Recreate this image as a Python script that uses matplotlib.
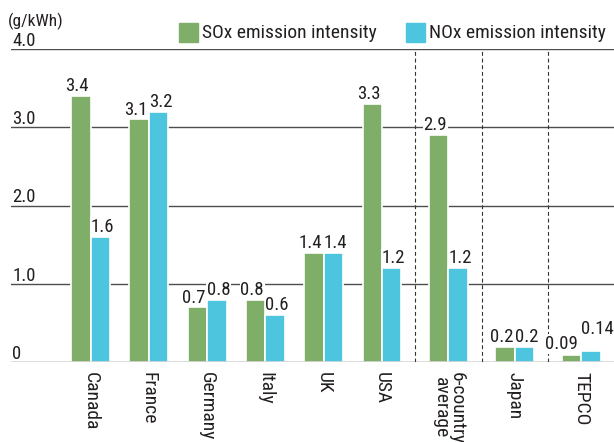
import matplotlib.pyplot as plt
import numpy as np

plt.rcParams["font.family"] = ["Liberation Sans Narrow", "Arial Narrow", "Roboto Condensed",
                               "Archivo Narrow", "DejaVu Sans"]

categories = ["Canada", "France", "Germany", "Italy", "UK", "USA",
              "6-country\naverage", "Japan", "TEPCO"]
sox = [3.4, 3.1, 0.7, 0.8, 1.4, 3.3, 2.9, 0.2, 0.09]
nox = [1.6, 3.2, 0.8, 0.6, 1.4, 1.2, 1.2, 0.2, 0.14]
sox_labels = ["3.4", "3.1", "0.7", "0.8", "1.4", "3.3", "2.9", "0.2", "0.09"]
nox_labels = ["1.6", "3.2", "0.8", "0.6", "1.4", "1.2", "1.2", "0.2", "0.14"]
y_ticks = [0, 1.0, 2.0, 3.0, 4.0]
y_tick_labels = ["0", "1.0", "2.0", "3.0", "4.0"]

GREEN = "#7fae68"
BLUE = "#4ec5df"
TEXT = "#231f20"
LINE = "#4d4d4d"

# groups after the USA are split off by dashed separators with a little extra room
separators_after = [5, 6, 7]
extra = 0.14
pos = np.array([i + extra * sum(i > s for s in separators_after) for i in range(len(categories))])
sep_x = [(pos[s] + pos[s + 1]) / 2 for s in separators_after]
width = 0.333

fig = plt.figure(figsize=(6.14, 4.42), dpi=100)
ax = fig.add_axes([11 / 614, (442 - 362.3) / 442, 1 - 11 / 614, (362.3 - 49) / 442])
ax.set_xlim(-1.364, 8.98)
ax.set_ylim(0, 4.0)
ax.axis("off")

for y, lab in zip(y_ticks, y_tick_labels):
    ax.axhline(y, color=LINE, lw=1.0, zorder=1 if y > 0 else 4)
    ax.annotate(lab, (0, y), xycoords=("axes fraction", "data"), xytext=(1, 2.5),
                textcoords="offset points", ha="left", va="baseline",
                fontsize=13.5, color=TEXT)

for x in sep_x:
    ax.plot([x, x], [0, 4.0], color="#333333", lw=0.8, ls=(0, (3.5, 2.5)), zorder=2)

ax.bar(pos - width / 2, sox, width, color=GREEN, edgecolor="white", linewidth=1.2, zorder=3)
ax.bar(pos + width / 2, nox, width, color=BLUE, edgecolor="white", linewidth=1.2, zorder=3)

# value labels: nudge outward a little so pairs don't collide
for i in range(len(categories)):
    dx_s, dx_n, dy_s, dy_n = -2.5, 1.5, 3.5, 3.5
    if categories[i] == "TEPCO":
        dx_s, dx_n, dy_s, dy_n = -7, 4.5, 4.5, 12.5
    ax.annotate(sox_labels[i], (pos[i] - width / 2, sox[i]), xytext=(dx_s, dy_s),
                textcoords="offset points", ha="center", va="baseline", fontsize=13.5,
                color=TEXT, zorder=5,
                bbox=dict(facecolor="white", edgecolor="none", pad=0.5))
    ax.annotate(nox_labels[i], (pos[i] + width / 2, nox[i]), xytext=(dx_n, dy_n),
                textcoords="offset points", ha="center", va="baseline", fontsize=13.5,
                color=TEXT, zorder=5,
                bbox=dict(facecolor="white", edgecolor="none", pad=0.5))

for x, name in zip(pos, categories):
    ax.annotate(name, (x, 0), xytext=(0, -7), textcoords="offset points",
                rotation=270, ha="center", va="top", fontsize=14,
                color=TEXT, linespacing=0.85)

# header: unit and legend
fig.text(8 / 614, 1 - 21 / 442, "(g/kWh)", fontsize=12.5, color=TEXT, va="center", ha="left")
for x0, color, label in [(179, GREEN, "SOx emission intensity"),
                         (406, BLUE, "NOx emission intensity")]:
    fig.patches.append(plt.Rectangle((x0 / 614, 1 - 42 / 442), 19 / 614, 19 / 442,
                                     transform=fig.transFigure, color=color))
    fig.text((x0 + 23) / 614, 1 - 37.5 / 442, label, fontsize=14, color=TEXT,
             va="baseline", ha="left")

fig.savefig("out.png", dpi=100)
